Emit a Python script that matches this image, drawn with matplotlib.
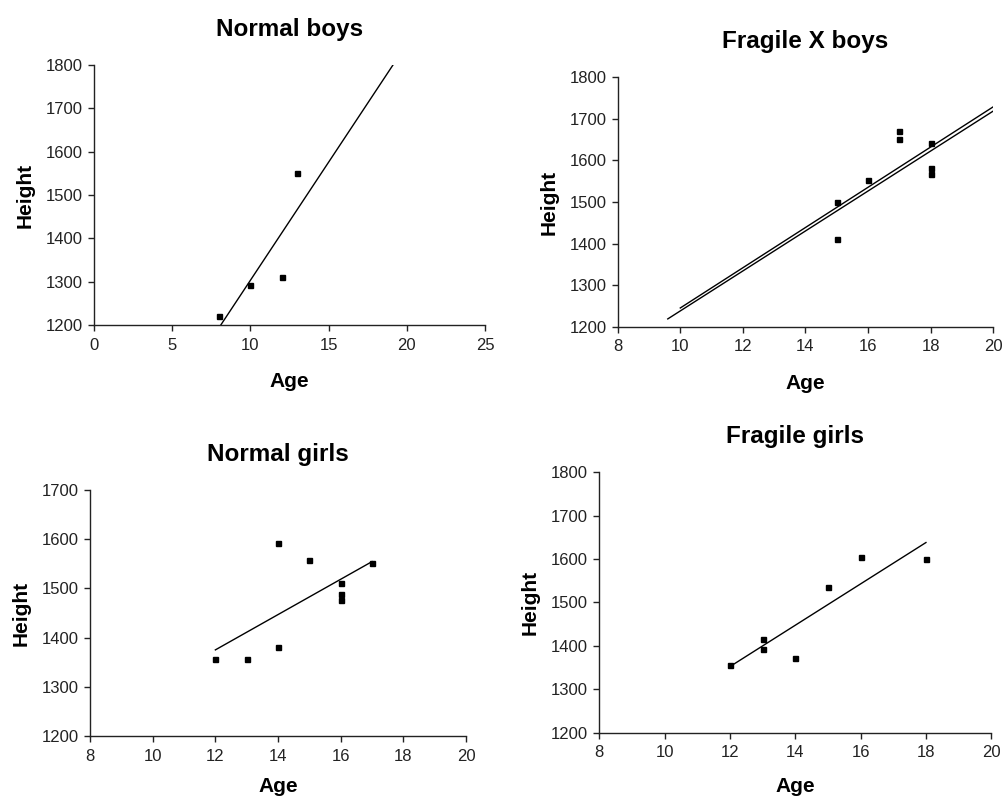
import numpy as np
import matplotlib
matplotlib.use("Agg")
import matplotlib.pyplot as plt

plt.rcParams['font.family'] = ['Liberation Sans', 'DejaVu Sans']

# ---- data ----
nb_age = [8, 10, 12, 13]
nb_height = [1221, 1292, 1311, 1552]

fxb_age = [15, 15, 16, 17, 17, 18, 18, 18]
fxb_height = [1500, 1412, 1552, 1671, 1651, 1641, 1581, 1567]
# second (lower) line drawn in the Fragile X boys panel: slope, intercept, age span
fxb_line2 = [48.1, 757.0]
fxb_line2_span = [9.6, 20]

ng_age = [12, 13, 14, 14, 15, 16, 16, 16, 17]
ng_height = [1357, 1356, 1593, 1381, 1557, 1512, 1488, 1477, 1552]

fg_age = [12, 13, 13, 14, 15, 16, 18]
fg_height = [1355, 1417, 1392, 1371, 1536, 1604, 1601]

fig = plt.figure(figsize=(10.07, 7.99), dpi=100)


def style(ax, title, xlim, xticks, ylim, yticks, xpad=14):
    ax.set_xlim(xlim)
    ax.set_ylim(ylim)
    ax.set_xticks(xticks)
    ax.set_yticks(yticks)
    for s in ['top', 'right']:
        ax.spines[s].set_visible(False)
    for s in ['left', 'bottom']:
        ax.spines[s].set_linewidth(1.0)
        ax.spines[s].set_color('#222222')
    ax.tick_params(direction='out', length=4, width=1.0, labelsize=12, pad=4,
                   color='#222222', labelcolor='#222222')
    ax.tick_params(axis='x', pad=5)
    ax.set_title(title, fontsize=17.5, fontweight='bold', pad=21)
    ax.set_xlabel('Age', fontsize=15, fontweight='bold', labelpad=xpad)
    ax.set_ylabel('Height', fontsize=15, fontweight='bold', labelpad=8)


def fit_line(ax, x, y, x0, x1):
    slope, intercept = np.polyfit(x, y, 1)
    xs = np.array([x0, x1])
    ax.plot(xs, slope * xs + intercept, color='black', lw=1.0)


mk = dict(marker='s', ms=3.6, color='black', ls='none')

# Normal boys
ax1 = fig.add_axes([0.0933, 0.5932, 0.3883, 0.3254])
ax1.plot(nb_age, nb_height, **mk)
fit_line(ax1, nb_age, nb_height, 0, 25)
style(ax1, 'Normal boys', (0, 25), range(0, 26, 5), (1200, 1800), range(1200, 1801, 100))

# Fragile X boys
ax2 = fig.add_axes([0.6134, 0.5911, 0.3730, 0.3121])
ax2.plot(fxb_age, fxb_height, **mk)
fit_line(ax2, fxb_age, fxb_height, 10, 20)
xs = np.array(fxb_line2_span)
ax2.plot(xs, fxb_line2[0] * xs + fxb_line2[1], color='black', lw=1.0)
style(ax2, 'Fragile X boys', (8, 20), range(8, 21, 2), (1200, 1800), range(1200, 1801, 100))

# Normal girls
ax3 = fig.add_axes([0.0894, 0.0788, 0.3734, 0.3079])
ax3.plot(ng_age, ng_height, **mk)
fit_line(ax3, ng_age, ng_height, min(ng_age), max(ng_age))
style(ax3, 'Normal girls', (8, 20), range(8, 21, 2), (1200, 1700), range(1200, 1701, 100), xpad=10)

# Fragile girls
ax4 = fig.add_axes([0.5951, 0.0830, 0.3893, 0.3259])
ax4.plot(fg_age, fg_height, **mk)
fit_line(ax4, fg_age, fg_height, min(fg_age), max(fg_age))
style(ax4, 'Fragile girls', (8, 20), range(8, 21, 2), (1200, 1800), range(1200, 1801, 100), xpad=12)

fig.savefig('out.png', dpi=100)
